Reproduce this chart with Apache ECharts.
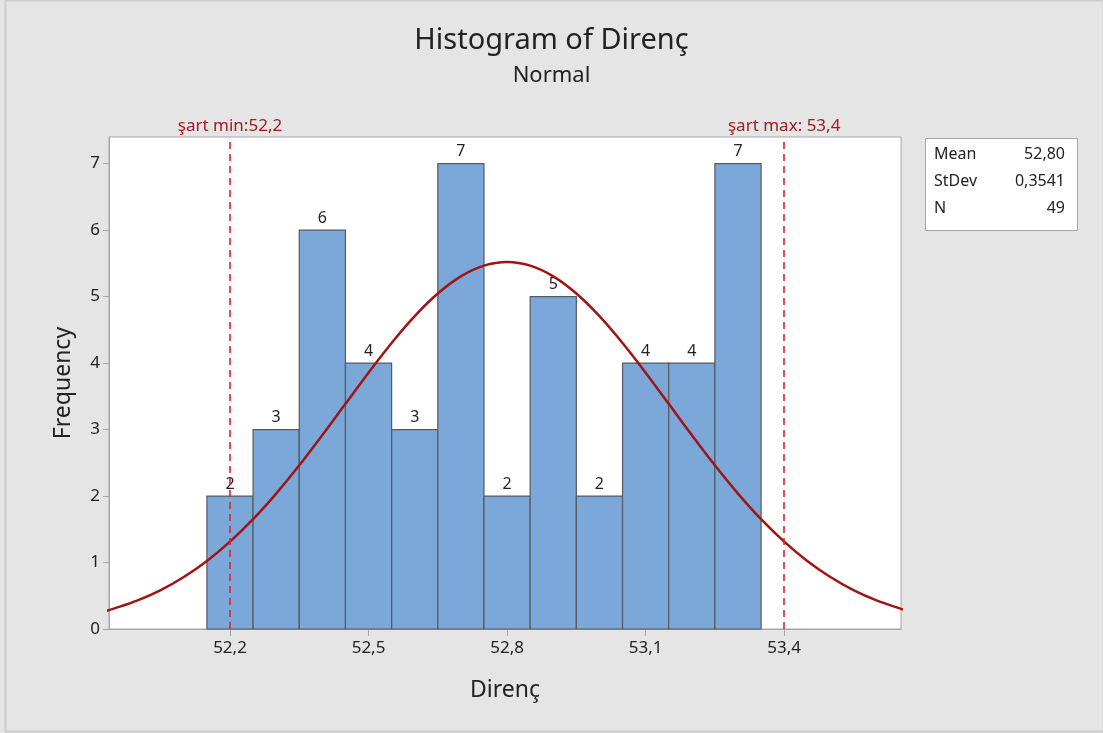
<!DOCTYPE html>
<html>
<head>
<meta charset="utf-8">
<style>
  html, body { margin: 0; padding: 0; background: #e5e5e5; }
  #chart { width: 1103px; height: 733px; }
</style>
<script src="https://cdn.jsdelivr.net/npm/echarts@6/dist/echarts.min.js"></script>
</head>
<body>
<div id="chart"></div>
<script>
// Histogram bins: bin centers (width 0.1) and their frequencies
const binCenters = [52.2, 52.3, 52.4, 52.5, 52.6, 52.7, 52.8, 52.9, 53.0, 53.1, 53.2, 53.3];
const binCounts  = [2, 3, 6, 4, 3, 7, 2, 5, 2, 4, 4, 7];
const binWidth = 0.1;

// Fitted normal curve (scaled to counts)
const curveX = [51.93, 51.95, 52.00, 52.05, 52.10, 52.15, 52.20, 52.25, 52.30, 52.35, 52.40, 52.45,
                52.50, 52.55, 52.60, 52.65, 52.70, 52.75, 52.80, 52.85, 52.90, 52.95, 53.00, 53.05,
                53.10, 53.15, 53.20, 53.25, 53.30, 53.35, 53.40, 53.45, 53.50, 53.55, 53.60, 53.65, 53.66];
const curveY = [0.270, 0.310, 0.430, 0.586, 0.782, 1.024, 1.314, 1.652, 2.037, 2.462, 2.917, 3.387,
                3.855, 4.302, 4.706, 5.046, 5.304, 5.465, 5.520, 5.465, 5.304, 5.046, 4.706, 4.302,
                3.855, 3.387, 2.917, 2.462, 2.037, 1.652, 1.314, 1.024, 0.782, 0.586, 0.430, 0.310, 0.289];

// Specification limits
const specLimits = [52.2, 53.4];
const specLabels = ['şart min:52,2', 'şart max: 53,4'];

// Axis ticks
const xTicks = [52.2, 52.5, 52.8, 53.1, 53.4];
const yTicks = [0, 1, 2, 3, 4, 5, 6, 7];

// Summary statistics
const statNames  = ['Mean', 'StDev', 'N'];
const statValues = ['52,80', '0,3541', '49'];

const FONT = '"Noto Sans", "Open Sans", sans-serif';
const comma = (v, d) => v.toFixed(d).replace('.', ',');

const chart = echarts.init(document.getElementById('chart'));

const statsGraphic = [];
statsGraphic.push({
  type: 'rect', left: 925, top: 138, shape: { width: 152, height: 92 },
  style: { fill: '#ffffff', stroke: '#a6a6a6', lineWidth: 1 }
});
statNames.forEach((n, i) => {
  statsGraphic.push({
    type: 'text', left: 934, top: 146 + i * 27,
    style: { text: n, font: '16px ' + FONT, fill: '#222' }
  });
  statsGraphic.push({
    type: 'text', right: 1103 - 1065, top: 146 + i * 27,
    style: { text: statValues[i], font: '16px ' + FONT, fill: '#222', textAlign: 'right' }
  });
});

const option = {
  backgroundColor: '#e5e5e5',
  animation: false,
  title: [
    { text: 'Histogram of Direnç', left: 'center', top: 21,
      textStyle: { fontFamily: FONT, fontSize: 29, fontWeight: 'normal', color: '#222' } },
    { text: 'Normal', left: 'center', top: 60,
      textStyle: { fontFamily: FONT, fontSize: 22, fontWeight: 'normal', color: '#222' } }
  ],
  graphic: [
    { type: 'rect', left: 3, top: -2, shape: { width: 1098, height: 731 },
      style: { fill: 'none', stroke: '#cdcdcd', lineWidth: 2 }, silent: true, z: -1 }
  ].concat(statsGraphic),
  grid: {
    left: 109, top: 137, right: 202, bottom: 104,
    show: true, backgroundColor: '#ffffff', borderColor: '#a6a6a6', borderWidth: 1
  },
  xAxis: {
    type: 'value', min: 51.938, max: 53.653,
    name: 'Direnç', nameLocation: 'middle', nameGap: 50,
    nameTextStyle: { fontFamily: FONT, fontSize: 23, color: '#222' },
    axisLine: { show: true, lineStyle: { color: '#a6a6a6' } },
    axisTick: { show: true, customValues: xTicks, length: 7, lineStyle: { color: '#a6a6a6' } },
    axisLabel: { customValues: xTicks, margin: 11, fontFamily: FONT, fontSize: 17, color: '#222',
                 formatter: v => comma(v, 1) },
    splitLine: { show: false }
  },
  yAxis: {
    type: 'value', min: 0, max: 7.4,
    name: 'Frequency', nameLocation: 'middle', nameGap: 34,
    nameTextStyle: { fontFamily: FONT, fontSize: 23, color: '#222' },
    axisLine: { show: true, lineStyle: { color: '#a6a6a6' } },
    axisTick: { show: true, customValues: yTicks, length: 6, lineStyle: { color: '#a6a6a6' } },
    axisLabel: { customValues: yTicks, margin: 9, fontFamily: FONT, fontSize: 17, color: '#222' },
    splitLine: { show: false }
  },
  series: [
    {
      type: 'custom',
      data: binCenters.map((c, i) => [c, binCounts[i]]),
      encode: { x: 0, y: 1 },
      renderItem: (params, api) => {
        const c = api.value(0), n = api.value(1);
        const p0 = api.coord([c - binWidth / 2, n]);
        const p1 = api.coord([c + binWidth / 2, 0]);
        return {
          type: 'group',
          children: [
            { type: 'rect',
              shape: { x: p0[0], y: p0[1], width: p1[0] - p0[0], height: p1[1] - p0[1] },
              style: { fill: '#7ba7d9', stroke: '#555b61', lineWidth: 1.2 } },
            { type: 'text',
              style: { x: (p0[0] + p1[0]) / 2, y: p0[1] - 4, text: String(n),
                       textAlign: 'center', textVerticalAlign: 'bottom',
                       font: '16px ' + FONT, fill: '#222' } }
          ]
        };
      },
      z: 2
    },
    {
      type: 'line',
      data: curveX.map((x, i) => [x, curveY[i]]),
      smooth: 0.35, showSymbol: false, clip: true,
      lineStyle: { color: '#a11414', width: 2.5 },
      z: 3,
      markLine: {
        silent: true, symbol: 'none',
        lineStyle: { color: '#d8262b', type: [7, 5], width: 1.6 },
        label: {
          show: true, position: 'end', distance: 2,
          fontFamily: FONT, fontSize: 17, color: '#a31a1f',
          formatter: p => specLabels[specLimits.indexOf(p.value)]
        },
        data: specLimits.map(v => ({ xAxis: v }))
      }
    }
  ]
};

chart.setOption(option);
</script>
</body>
</html>
